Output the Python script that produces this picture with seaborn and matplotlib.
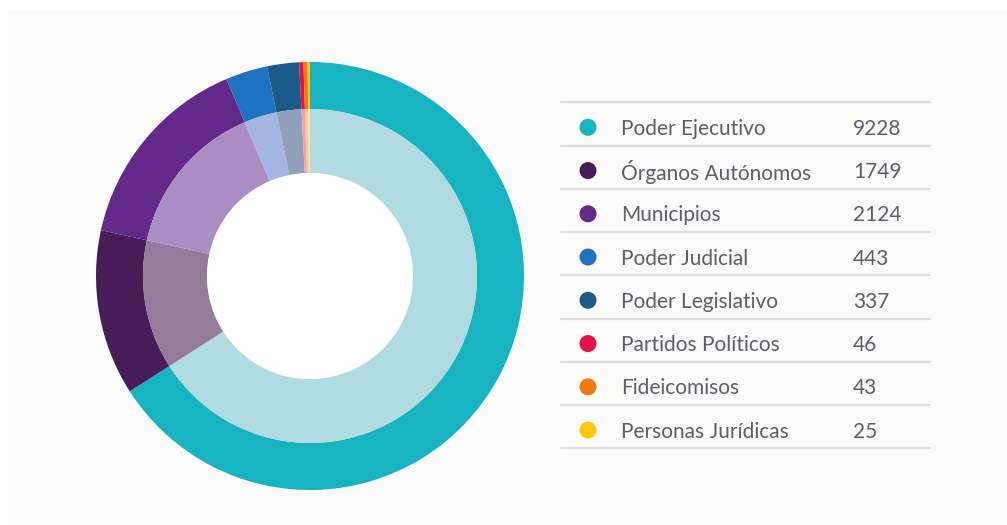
"""
plot.py - Donut chart of records per sujeto obligado, with a table legend.
"""

import matplotlib.pyplot as plt
import seaborn as sns
from matplotlib.lines import Line2D
from matplotlib.patches import Circle, Rectangle

CATEGORIES = [
    "Poder Ejecutivo",
    "Órganos Autónomos",
    "Municipios",
    "Poder Judicial",
    "Poder Legislativo",
    "Partidos Políticos",
    "Fideicomisos",
    "Personas Jurídicas",
]
VALUES = [9228, 1749, 2124, 443, 337, 46, 43, 25]

OUTER_COLORS = ["#17b3c1", "#461d56", "#63288a", "#1f72bf",
                "#1c5a8a", "#e0144b", "#f07a12", "#fcc812"]
INNER_COLORS = ["#b0dbe0", "#937b99", "#aa8ec3", "#a3b7e0",
                "#909fba", "#f3a0b0", "#f8c49a", "#fde7a0"]

W, H = 1007, 525
TEXT_COLOR = "#59606c"

sns.set_theme(style="white")
plt.rcParams["font.family"] = ["Lato", "DejaVu Sans"]

fig = plt.figure(figsize=(W / 100, H / 100), dpi=100, facecolor="white")

# off-white panel behind everything
fig.add_artist(Rectangle((8 / W, 0), 1, (H - 10) / H, transform=fig.transFigure,
                         facecolor="#fbfbf9", edgecolor="none", zorder=0))

# donut
cx, cy, r = 310, 276, 214
ax = fig.add_axes([(cx - r) / W, (H - cy - r) / H, 2 * r / W, 2 * r / H])
ax.pie(VALUES, radius=1.0, colors=OUTER_COLORS, startangle=90, counterclock=False,
       wedgeprops=dict(width=47 / r, linewidth=0))
ax.pie(VALUES, radius=167 / r, colors=INNER_COLORS, startangle=90, counterclock=False,
       wedgeprops=dict(width=64 / r, linewidth=0))
ax.add_patch(Circle((0, 0), 103 / r, facecolor="white", edgecolor="none"))
ax.set_xlim(-1, 1)
ax.set_ylim(-1, 1)
ax.set_aspect("equal")
ax.axis("off")

# table legend, in pixel coordinates
lg = fig.add_axes([0, 0, 1, 1])
lg.set_xlim(0, W)
lg.set_ylim(H, 0)
lg.axis("off")
lg.patch.set_alpha(0)

top, step = 102.3, 43.25
x0, x1 = 561, 930
for i in range(len(CATEGORIES) + 1):
    y = top + i * step
    lg.add_line(Line2D([x0, x1], [y, y], color="#dcdcdc", linewidth=1.6))

for i, (name, val, col) in enumerate(zip(CATEGORIES, VALUES, OUTER_COLORS)):
    yc = top + i * step + 25
    lg.scatter([588], [yc], s=150, color=col, edgecolors="none")
    lg.text(621, yc + 1.5, name, fontsize=15, color=TEXT_COLOR, va="center", ha="left")
    lg.text(853, yc + 1.5, str(val), fontsize=15, color=TEXT_COLOR, va="center", ha="left")

fig.savefig("out.png", dpi=100, facecolor="white")
